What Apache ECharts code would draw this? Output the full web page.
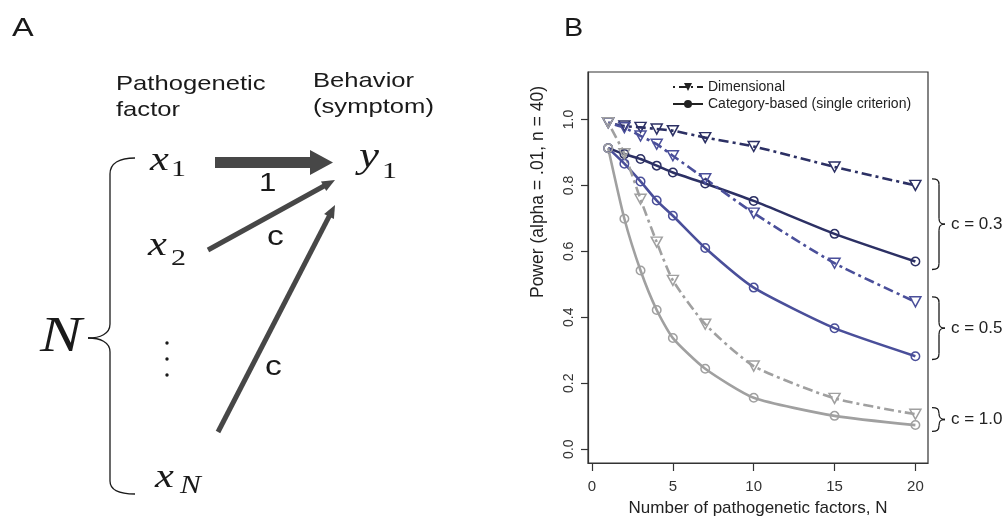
<!DOCTYPE html>
<html><head><meta charset="utf-8">
<script src="https://cdn.jsdelivr.net/npm/echarts@6/dist/echarts.min.js"></script>
<style>html,body{margin:0;padding:0;background:#fff}#c{width:1008px;height:522px}</style>
</head><body><div id="c"></div>
<script>
// ---------- data ----------
const nFactors = [1, 2, 3, 4, 5, 7, 10, 15, 20];
const dimC03 = [0.990, 0.980, 0.976, 0.971, 0.966, 0.945, 0.918, 0.856, 0.800];
const catC03 = [0.913, 0.895, 0.880, 0.860, 0.839, 0.806, 0.753, 0.653, 0.569];
const dimC05 = [0.990, 0.975, 0.950, 0.925, 0.890, 0.820, 0.716, 0.564, 0.447];
const catC05 = [0.913, 0.866, 0.812, 0.754, 0.708, 0.610, 0.490, 0.367, 0.282];
const dimC10 = [0.990, 0.896, 0.758, 0.628, 0.512, 0.379, 0.252, 0.154, 0.106];
const catC10 = [0.913, 0.699, 0.542, 0.422, 0.337, 0.244, 0.156, 0.101, 0.073];
const xTicks = [0, 5, 10, 15, 20];
const yTicks = [0, 0.2, 0.4, 0.6, 0.8, 1.0];
const legendNames = ['Dimensional', 'Category-based (single criterion)'];
const braceLabels = ['c = 0.3', 'c = 0.5', 'c = 1.0'];
const braceTop = [0.820, 0.462, 0.126];
const braceBottom = [0.545, 0.272, 0.054];

// ---------- styling ----------
const SANS = '"Liberation Sans", Arial, Helvetica, sans-serif';
const SERIF = '"Liberation Serif", "Times New Roman", serif';
const COL03 = '#2c3064', COL05 = '#4a4f9a', COL10 = '#a0a0a0';
const INK = '#1a1a1a', AX = '#333333';
const DOTDASH = [3, 4, 10, 4];

function mk(name, vals, color, dim) {
  return {
    type: 'line', name: name,
    data: nFactors.map((n, i) => [n, vals[i]]),
    smooth: 0.2,
    symbol: dim ? 'triangle' : 'circle',
    symbolRotate: dim ? 180 : 0,
    symbolSize: dim ? [11, 10] : 8.5,
    showSymbol: true,
    lineStyle: { color: color, width: 2.6, type: dim ? DOTDASH : 'solid', cap: 'butt' },
    itemStyle: { color: 'rgba(255,255,255,0)', borderColor: color, borderWidth: 1.5 },
    emphasis: { disabled: true },
    silent: true
  };
}
function legendSeries(name, dim) {
  return {
    type: 'line', name: name, data: [],
    symbol: dim ? 'triangle' : 'circle',
    symbolRotate: dim ? 180 : 0,
    lineStyle: { color: '#222', width: 2.2, type: dim ? [2, 4, 8, 4] : 'solid' },
    itemStyle: { color: '#222' }
  };
}

const chart = echarts.init(document.getElementById('c'), null, { renderer: 'canvas' });
chart.setOption({
  animation: false,
  backgroundColor: '#ffffff',
  grid: { left: 588, right: 80, top: 72, bottom: 56, show: true, borderColor: AX, borderWidth: 1.2, backgroundColor: 'transparent' },
  xAxis: {
    type: 'value', min: -0.25, max: 20.78,
    axisLine: { show: true, onZero: false, lineStyle: { color: AX, width: 1.2 } },
    axisTick: { show: true, length: 8, lineStyle: { color: AX, width: 1.2 }, customValues: xTicks },
    axisLabel: { customValues: xTicks, margin: 16, fontSize: 15, color: '#333', fontFamily: SANS },
    splitLine: { show: false },
    name: 'Number of pathogenetic factors, N', nameLocation: 'middle', nameGap: 37,
    nameTextStyle: { fontSize: 17, color: '#222', fontFamily: SANS }
  },
  yAxis: {
    type: 'value', min: -0.042, max: 1.144,
    axisLine: { show: true, onZero: false, lineStyle: { color: AX, width: 1.2 } },
    axisTick: { show: true, length: 7, lineStyle: { color: AX, width: 1.2 }, customValues: yTicks },
    axisLabel: { customValues: yTicks, rotate: 90, margin: 12, fontSize: 14, color: '#333', fontFamily: SANS,
      formatter: v => v.toFixed(1) },
    splitLine: { show: false }
  },
  legend: {
    data: legendNames, left: 667, top: 75, orient: 'vertical',
    itemWidth: 30, itemHeight: 10, itemGap: 3,
    textStyle: { fontSize: 14, color: '#222', fontFamily: SANS },
    selectedMode: false
  },
  series: [
    legendSeries(legendNames[0], true),
    legendSeries(legendNames[1], false),
    mk('dim 0.3', dimC03, COL03, true),
    mk('cat 0.3', catC03, COL03, false),
    mk('dim 0.5', dimC05, COL05, true),
    mk('cat 0.5', catC05, COL05, false),
    mk('dim 1.0', dimC10, COL10, true),
    mk('cat 1.0', catC10, COL10, false)
  ]
});

// ---------- annotation helpers ----------
function txt(s, left, baseline, fs, family, italic, sx, opts) {
  opts = opts || {};
  return {
    type: 'text', x: left, y: baseline - 0.34 * fs, scaleX: sx || 1, scaleY: 1,
    rotation: opts.rotation || 0,
    style: {
      text: s, fontSize: fs, fontFamily: family, fontStyle: italic ? 'italic' : 'normal',
      fill: opts.fill || INK, align: opts.align || 'left', verticalAlign: 'middle',
      textAlign: opts.align || 'left', textVerticalAlign: 'middle'
    }, silent: true
  };
}
function line(x1, y1, x2, y2, w, c) {
  return { type: 'line', shape: { x1, y1, x2, y2 }, style: { stroke: c || INK, lineWidth: w || 1.3, fill: null }, silent: true };
}
function bez(x1, y1, cx1, cy1, cx2, cy2, x2, y2, w) {
  return { type: 'bezierCurve', shape: { x1, y1, x2, y2, cpx1: cx1, cpy1: cy1, cpx2: cx2, cpy2: cy2 },
    style: { stroke: INK, lineWidth: w || 1.3, fill: null }, silent: true };
}
function arrow(sx, sy, tx, ty, w, headL, headW, col) {
  const dx = tx - sx, dy = ty - sy, L = Math.hypot(dx, dy);
  const ux = dx / L, uy = dy / L, px = -uy, py = ux;
  const bx = tx - ux * headL, by = ty - uy * headL;
  return [
    { type: 'line', shape: { x1: sx, y1: sy, x2: bx + ux * 1, y2: by + uy * 1 }, style: { stroke: col, lineWidth: w }, silent: true },
    { type: 'polygon', shape: { points: [[tx, ty], [bx + px * headW, by + py * headW], [bx - px * headW, by - py * headW]] },
      style: { fill: col }, silent: true }
  ];
}

const G = [];
// panel letters
G.push(txt('A', 12, 38, 25, SANS, false, 1.3));
G.push(txt('B', 564, 38, 25, SANS, false, 1.15));
// panel A headers
G.push(txt('Pathogenetic', 116, 91, 21, SANS, false, 1.22));
G.push(txt('factor', 116, 117, 21, SANS, false, 1.22));
G.push(txt('Behavior', 313, 88, 21, SANS, false, 1.22));
G.push(txt('(symptom)', 313, 114, 21, SANS, false, 1.22));
// math symbols
G.push(txt('x', 150, 173, 34, SERIF, true, 1.25));
G.push(txt('1', 171, 178, 24, SERIF, false, 1.25));
G.push(txt('x', 148, 258, 34, SERIF, true, 1.25));
G.push(txt('2', 171, 267, 24, SERIF, false, 1.25));
G.push(txt('x', 155, 490, 34, SERIF, true, 1.25));
G.push(txt('N', 180, 495, 25, SERIF, true, 1.25));
G.push(txt('y', 359, 170, 36, SERIF, true, 1.25));
G.push(txt('1', 382, 180, 24, SERIF, false, 1.25));
G.push(txt('N', 40, 355, 50, SERIF, true, 1.25));
// vertical dots
[343, 359, 375].forEach(y => G.push({ type: 'circle', shape: { cx: 167, cy: y, r: 1.7 }, style: { fill: INK }, silent: true }));
// big brace (panel A)
G.push(bez(135, 158, 120, 158, 110, 163, 110, 174));
G.push(line(110, 174, 110, 324));
G.push(bez(110, 324, 110, 334, 100, 338, 88, 338));
G.push(bez(88, 338, 100, 338, 110, 342, 110, 352));
G.push(line(110, 352, 110, 481));
G.push(bez(110, 481, 110, 490, 120, 494, 135, 494));
// arrows
const AC = '#474747';
G.push({ type: 'polygon', shape: { points: [[215, 157], [310, 157], [310, 150], [333, 162.5], [310, 175], [310, 168], [215, 168]] }, style: { fill: AC }, silent: true });
arrow(208, 250, 335, 180, 5, 13, 5.5, AC).forEach(e => G.push(e));
arrow(218, 432, 335, 205, 5, 13, 5.5, AC).forEach(e => G.push(e));
G.push(txt('1', 259, 193, 26, SANS, false, 1.2));
G.push(txt('c', 267, 247, 28, SANS, false, 1.2));
G.push(txt('c', 265, 377, 28, SANS, false, 1.2));

// y-axis title of panel B
G.push({ type: 'text', x: 538, y: 192, rotation: Math.PI / 2,
  style: { text: 'Power (alpha = .01, n = 40)', fontSize: 17.5, fontFamily: SANS, fill: '#222',
    align: 'center', verticalAlign: 'middle', textAlign: 'center', textVerticalAlign: 'middle' }, silent: true });

// c braces on the right of panel B
const right = chart.convertToPixel({ gridIndex: 0 }, [20.78, 0])[0];
braceLabels.forEach((lab, i) => {
  const t = chart.convertToPixel({ gridIndex: 0 }, [0, braceTop[i]])[1];
  const b = chart.convertToPixel({ gridIndex: 0 }, [0, braceBottom[i]])[1];
  const m = (t + b) / 2;
  const h0 = right + 4, v = right + 11, tip = right + 17;
  const r = Math.min(6, (b - t) / 4);
  G.push(bez(h0, t, h0 + 5, t, v, t + 1, v, t + r));
  G.push(line(v, t + r, v, m - r));
  G.push(bez(v, m - r, v, m - 1, v + 2, m, tip, m));
  G.push(bez(tip, m, v + 2, m, v, m + 1, v, m + r));
  G.push(line(v, m + r, v, b - r));
  G.push(bez(v, b - r, v, b - 1, h0 + 5, b, h0, b));
  G.push(txt(lab, right + 23, m + 6, 17, SANS, false, 1, { fill: '#222' }));
});

chart.setOption({ graphic: { elements: G } });
</script>
</body></html>
